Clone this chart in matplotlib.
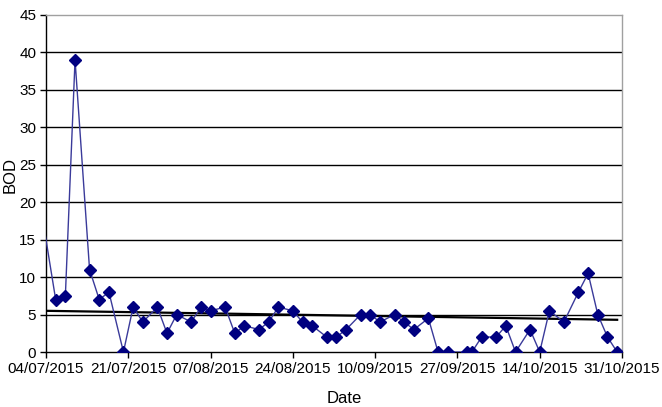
import numpy as np
import pandas as pd
import matplotlib
matplotlib.use("Agg")
import matplotlib.pyplot as plt
import matplotlib.dates as mdates

plt.rcParams['font.family'] = ['Liberation Sans', 'DejaVu Sans']

# BOD samples (mg/l), Mon/Wed/Fri sampling
dates = ["03/07/2015", "06/07/2015", "08/07/2015", "10/07/2015", "13/07/2015",
         "15/07/2015", "17/07/2015", "20/07/2015", "22/07/2015", "24/07/2015",
         "27/07/2015", "29/07/2015", "31/07/2015", "03/08/2015", "05/08/2015",
         "07/08/2015", "10/08/2015", "12/08/2015", "14/08/2015", "17/08/2015",
         "19/08/2015", "21/08/2015", "24/08/2015", "26/08/2015", "28/08/2015",
         "31/08/2015", "02/09/2015", "04/09/2015", "07/09/2015", "09/09/2015",
         "11/09/2015", "14/09/2015", "16/09/2015", "18/09/2015", "21/09/2015",
         "23/09/2015", "25/09/2015", "29/09/2015", "30/09/2015", "02/10/2015",
         "05/10/2015", "07/10/2015", "09/10/2015", "12/10/2015", "14/10/2015",
         "16/10/2015", "19/10/2015", "22/10/2015", "24/10/2015", "26/10/2015",
         "28/10/2015", "30/10/2015"]
bod = [19, 7, 7.5, 39, 11,
       7, 8, 0, 6, 4,
       6, 2.5, 5, 4, 6,
       5.5, 6, 2.5, 3.5, 3,
       4, 6, 5.5, 4, 3.5,
       2, 2, 3, 5, 5,
       4, 5, 4, 3, 4.5,
       0, 0, 0, 0, 2,
       2, 3.5, 0, 3, 0,
       5.5, 4, 8, 10.5, 5,
       2, 0]

# trend line end points
trend_dates = ["04/07/2015", "30/10/2015"]
trend_vals = [5.5, 4.3]

tick_dates = ["04/07/2015", "21/07/2015", "07/08/2015", "24/08/2015",
              "10/09/2015", "27/09/2015", "14/10/2015", "31/10/2015"]

x = pd.to_datetime(dates, format="%d/%m/%Y")
y = np.array(bod, dtype=float)
ticks = pd.to_datetime(tick_dates, format="%d/%m/%Y")
xt = pd.to_datetime(trend_dates, format="%d/%m/%Y")

fig = plt.figure(figsize=(6.62, 4.07), dpi=100)
ax = fig.add_axes([46 / 662, 1 - 352 / 407, 576 / 662, 337 / 407])

# horizontal gridlines
for v in range(5, 45, 5):
    ax.axhline(v, color='black', lw=1.0, zorder=1)

# first sample lies before the axis start, so no marker for it
ax.plot(x, y, color='#3a3a9a', lw=1.0, marker='D', markersize=6,
        markevery=slice(1, None),
        markerfacecolor='#000080', markeredgecolor='#000080', zorder=3)

ax.plot(xt, trend_vals, color='black', lw=1.6, zorder=2)

ax.set_xlim(mdates.date2num(ticks[0]), mdates.date2num(ticks[-1]))
ax.set_ylim(0, 45)
ax.set_yticks(range(0, 46, 5))
ax.set_xticks(mdates.date2num(ticks))
ax.xaxis.set_major_formatter(mdates.DateFormatter("%d/%m/%Y"))

for s in ['top', 'right']:
    ax.spines[s].set_color('#a0a0a0')
    ax.spines[s].set_linewidth(1.0)
ax.spines['left'].set_linewidth(1.0)
ax.spines['bottom'].set_linewidth(1.0)

ax.tick_params(axis='both', direction='out', length=4, width=1,
               labelsize=11, colors='black', pad=3)

ax.set_xlabel("Date", fontsize=12)
ax.set_ylabel("BOD", fontsize=12)
ax.xaxis.set_label_coords(0.518, -0.115)
ax.yaxis.set_label_coords(-0.050, 0.525)

fig.savefig("out.png", dpi=100)
